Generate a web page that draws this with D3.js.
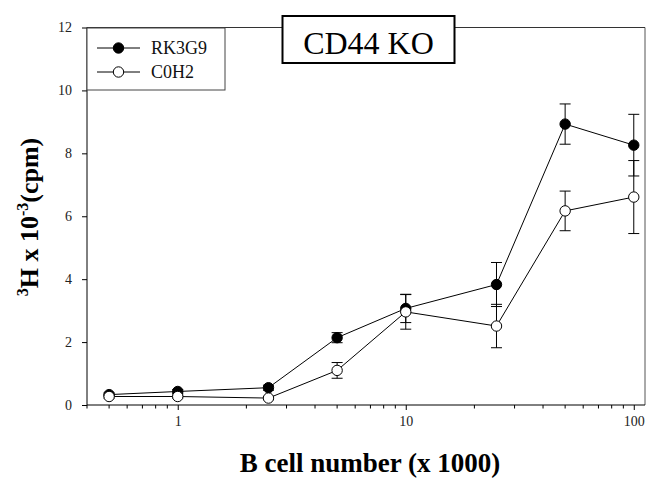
<!DOCTYPE html>
<html><head><meta charset="utf-8">
<script src="https://cdn.jsdelivr.net/npm/d3@7"></script>
</head><body style="margin:0">
<script>
const cellNumbers = [0.5, 1, 2.5, 5, 10, 25, 50, 100];
const rk3g9 = [0.33, 0.43, 0.55, 2.14, 3.07, 3.83, 8.93, 8.26];
const rk3g9Err = [0.05, 0.06, 0.08, 0.16, 0.45, 0.70, 0.64, 0.98];
const c0h2 = [0.27, 0.27, 0.22, 1.10, 2.96, 2.51, 6.17, 6.61];
const c0h2Err = [0.05, 0.05, 0.05, 0.25, 0.55, 0.69, 0.63, 1.16];
const yTicks = [0, 2, 4, 6, 8, 10, 12];
const xMajorTicks = [1, 10, 100];
const seriesNames = ["RK3G9", "C0H2"];
const titleText = "CD44 KO";

const W = 651, H = 478;
const svg = d3.select("body").append("svg").attr("width", W).attr("height", H).style("display", "block");
const x = d3.scaleLog().domain([0.4, 112]).range([87, 645]);
const y = d3.scaleLinear().domain([0, 12]).range([405, 27.5]);
const font = '"Liberation Serif"';

function txt(sel, size, weight) {
  return sel.style("font-family", font).style("font-size", size + "px").style("font-weight", weight);
}

svg.append("text").attr("x", 368.5).attr("y", 53.5).attr("text-anchor", "middle").call(txt, 32, "400").text(titleText);

const minor = [];
[0.1, 1, 10].forEach(d => { for (let k = 2; k <= 9; k++) { const v = d * k; if (v >= 0.4 && v <= 112) minor.push(v); } });
const xAxis = d3.axisBottom(x).tickValues(xMajorTicks).tickFormat(d3.format("d")).tickSize(5).tickPadding(6);
const gx = svg.append("g").attr("transform", `translate(0,${y(0)})`).call(xAxis);
gx.attr("font-family", null);
gx.append("g").selectAll("line").data(minor).join("line")
  .attr("x1", d => x(d)).attr("x2", d => x(d)).attr("y1", 0).attr("y2", 3.5).attr("stroke", "#000");
gx.select(".domain").attr("d", `M${x.range()[0]},0H${x.range()[1]}`).attr("stroke", "#000");
gx.selectAll("text").call(txt, 14, "400").attr("fill", "#222");

const yAxis = d3.axisLeft(y).tickValues(yTicks).tickSize(5).tickPadding(10);
const gy = svg.append("g").attr("transform", `translate(${x.range()[0]},0)`).call(yAxis);
gy.attr("font-family", null);
gy.select(".domain").attr("d", `M0,${y.range()[0]}V${y.range()[1]}`).attr("stroke", "#000");
gy.selectAll("text").call(txt, 14, "400").attr("fill", "#222");

svg.insert("line", ":first-child").attr("x1", x.range()[0]).attr("x2", x.range()[1]).attr("y1", y(12)).attr("y2", y(12)).attr("stroke", "#333").attr("stroke-width", 1);
svg.insert("line", ":first-child").attr("x1", x.range()[1]).attr("x2", x.range()[1]).attr("y1", y(12)).attr("y2", y(0)).attr("stroke", "#555").attr("stroke-width", 1);

const series = [
  {name: seriesNames[0], vals: rk3g9, err: rk3g9Err, fill: "#000"},
  {name: seriesNames[1], vals: c0h2, err: c0h2Err, fill: "#fff"}
];
const line = d3.line().x(d => x(d.x)).y(d => y(d.v));
series.forEach(s => {
  const pts = cellNumbers.map((c, i) => ({x: c, v: s.vals[i], e: s.err[i]}));
  const g = svg.append("g");
  g.append("path").datum(pts).attr("d", line).attr("fill", "none").attr("stroke", "#000").attr("stroke-width", 1);
  const eb = g.selectAll(".eb").data(pts).join("g");
  eb.append("line").attr("x1", d => x(d.x)).attr("x2", d => x(d.x)).attr("y1", d => y(d.v - d.e)).attr("y2", d => y(d.v + d.e)).attr("stroke", "#000");
  eb.append("line").attr("x1", d => x(d.x) - 5.5).attr("x2", d => x(d.x) + 5.5).attr("y1", d => y(d.v + d.e)).attr("y2", d => y(d.v + d.e)).attr("stroke", "#000");
  eb.append("line").attr("x1", d => x(d.x) - 5.5).attr("x2", d => x(d.x) + 5.5).attr("y1", d => y(d.v - d.e)).attr("y2", d => y(d.v - d.e)).attr("stroke", "#000");
  g.selectAll("circle").data(pts).join("circle").attr("cx", d => x(d.x)).attr("cy", d => y(d.v)).attr("r", 5.2)
    .attr("fill", s.fill).attr("stroke", "#000").attr("stroke-width", 1);
});

const lg = svg.append("g");
lg.append("rect").attr("x", 87).attr("y", 28).attr("width", 138).attr("height", 62).attr("fill", "#fff").attr("stroke", "#444").attr("stroke-width", 1);
series.forEach((s, i) => {
  const cy = 48 + i * 24;
  lg.append("line").attr("x1", 97).attr("x2", 140).attr("y1", cy).attr("y2", cy).attr("stroke", "#000");
  lg.append("circle").attr("cx", 118.5).attr("cy", cy).attr("r", 5.2).attr("fill", s.fill).attr("stroke", "#000");
  lg.append("text").attr("x", 151).attr("y", cy + 6).call(txt, 18, "400").attr("fill", "#111").text(s.name);
});

svg.insert("rect", "text").attr("x", 282.5).attr("y", 16).attr("width", 172).attr("height", 47).attr("fill", "#fff").attr("stroke", "#000").attr("stroke-width", 2);

svg.append("text").attr("x", 370).attr("y", 472).attr("text-anchor", "middle").call(txt, 27, "700").text("B cell number (x 1000)");
const yt = svg.append("text").attr("transform", "translate(38,217) rotate(-90)").attr("text-anchor", "middle").call(txt, 26, "700");
yt.append("tspan").style("font-size", "16px").attr("dy", -10).text("3");
yt.append("tspan").attr("dy", 10).text("H x 10");
yt.append("tspan").style("font-size", "16px").attr("dy", -10).text("-3");
yt.append("tspan").attr("dy", 10).text("(cpm)");
</script>
</body></html>
